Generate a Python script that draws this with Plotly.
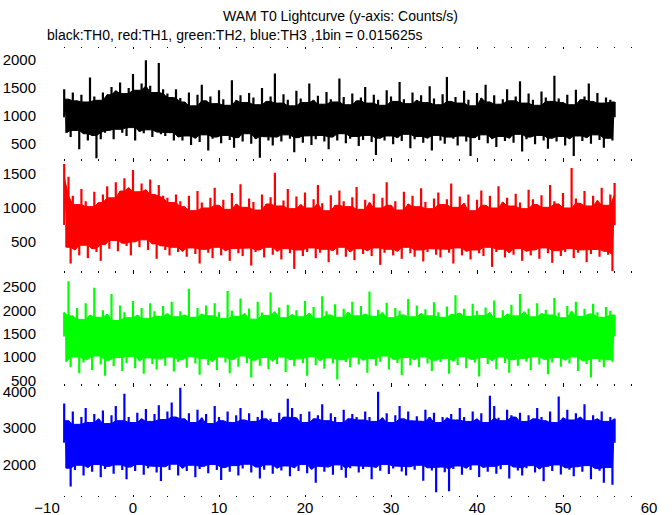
import plotly.graph_objects as go
from plotly.subplots import make_subplots

# Time grid (s): local maxima at T_HIGH, local minima at T_LOW (0.25 s apart, interleaved)
T_START = -8.0
N_HIGH = 129
T_HIGH = [T_START + 0.5 * k for k in range(N_HIGH)]
T_LOW = [T_START + 0.25 + 0.5 * k for k in range(N_HIGH - 1)]

# ---- TH0 (black), counts/s ----
th0_high = [
    1480, 1300, 1420, 1270, 1380, 1250, 1690, 1350, 1280,
    1420, 1380, 1520, 1450, 1600, 1400, 1500, 1750, 1460, 1580, 2000, 1540, 1420, 1950, 1480,
    1400, 1330, 1480,
    1320, 1250, 1420, 1180, 1380, 1560, 1270, 1350, 1220, 1460,
    1300, 1190, 1640, 1280, 1370, 1240, 1410, 1330, 1200, 1500,
    1260, 1350, 1760, 1230, 1390, 1290, 1180, 1450, 1310, 1240,
    1580, 1280, 1360, 1210, 1430, 1300, 1250, 1670, 1340, 1200,
    1400, 1270, 1330, 1520, 1230, 1380, 1290, 1190, 1460, 1350,
    1260, 1610, 1300, 1220, 1420, 1280, 1370, 1240, 1530, 1310,
    1200, 1390, 1700, 1260, 1340, 1230, 1450, 1290, 1180, 1410,
    1320, 1560, 1250, 1370, 1210, 1300, 1480, 1270, 1350, 1620,
    1230, 1400, 1290, 1190, 1440, 1330, 1260, 1720, 1310, 1240,
    1380, 1200, 1470, 1290, 1350, 1580, 1260, 1410, 1230, 1330,
    1290, 1250,
]
th0_low = [
    700, 620, 740, 400, 680, 560, 650, 240, 580,
    700, 740, 580, 760, 700, 640, 790, 560, 720, 690, 750, 620, 710, 670,
    640, 700, 560, 620,
    560, 640, 480, 600, 530, 660, 380, 590, 620, 510,
    650, 570, 430, 610, 540, 680, 500, 590, 250, 630,
    560, 470, 620, 540, 660, 590, 350, 610, 520, 640,
    480, 580, 650, 540, 400, 620, 560, 680, 510, 590,
    630, 460, 570, 650, 530, 300, 600, 560, 640, 490,
    610, 550, 670, 420, 580, 630, 520, 600, 380, 650,
    560, 500, 620, 590, 470, 640, 540, 280, 610, 570,
    660, 510, 590, 440, 630, 550, 600, 520, 670, 360,
    580, 620, 490, 650, 560, 410, 600, 540, 630, 470,
    590, 280, 640, 550, 610, 500, 660, 570, 430, 600,
    560,
]

# ---- TH1 (red) ----
th1_high = [
    1650, 1460, 1180, 1050, 1280, 1100, 1020, 1240, 1080,
    1200, 1320, 1150, 1380, 1250, 1440, 1300, 1560, 1240, 1360, 1270, 1420, 1200, 1340, 1180,
    1150, 1080, 1200,
    1100, 1020, 1180, 960, 1250, 1080, 1000, 1150, 1300, 1040,
    1120, 980, 1220, 1060, 1350, 1010, 1140, 1090, 970, 1200,
    1060, 1160, 1520, 1030, 1110, 1280, 990, 1170, 1050, 1230,
    1000, 1130, 1340, 1070, 960, 1190, 1040, 1260, 1100, 1020,
    1160, 1310, 980, 1120, 1080, 1210, 1000, 1150, 1380, 1040,
    1100, 970, 1240, 1060, 1180, 1020, 1290, 1090, 990, 1140,
    1230, 1050, 1130, 1360, 1010, 1170, 1070, 1200, 960, 1120,
    1260, 1040, 1180, 1000, 1320, 1090, 1150, 1030, 1210, 1080,
    990, 1270, 1130, 1050, 1190, 1010, 1340, 1100, 1060, 1220,
    1000, 1590, 1140, 1070, 1250, 1030, 1180, 1110, 1300, 1040,
    1200, 1370,
]
th1_low = [
    420, 180, 380, 300, 450, 260, 400, 350, 220,
    460, 400, 520, 360, 480, 440, 300, 500, 420, 530, 380, 470, 250, 440,
    380, 300, 420, 350,
    360, 280, 410, 320, 180, 390, 340, 260, 420, 300,
    370, 220, 400, 330, 290, 410, 150, 350, 380, 270,
    420, 310, 360, 240, 400, 330, 100, 380, 290, 350,
    410, 260, 340, 390, 200, 370, 310, 420, 280, 350,
    230, 400, 320, 370, 290, 410, 160, 340, 390, 300,
    360, 250, 420, 330, 280, 380, 210, 350, 400, 310,
    270, 390, 340, 180, 410, 300, 360, 240, 380, 330,
    290, 420, 130, 350, 390, 270, 340, 310, 400, 220,
    360, 300, 380, 250, 410, 330, 190, 370, 290, 350,
    400, 260, 340, 380, 200, 320, 390, 280, 360, 310,
    70,
]

# ---- TH2 (green) ----
th2_high = [
    1950, 2620, 1880, 2050, 1800, 2150, 1900, 2480, 1850, 2000, 1920, 2350, 1780, 2100,
    1960, 1840, 2200, 1900, 2050, 1820, 2150, 1980, 1870, 2090, 1930, 2180, 1860,
    1980, 1900, 2460, 1850, 2050, 1920, 2100, 1880, 2150, 1960,
    1820, 2410, 1990, 1870, 2250, 1930, 2040, 1810, 2180, 1950,
    1890, 2380, 1970, 2060, 1840, 2120, 1910, 2000, 1860, 2200,
    1940, 2070, 1830, 2300, 1980, 1900, 2130, 1850, 2030, 1960,
    2180, 1880, 2090, 1920, 2400, 1870, 2010, 1950, 2160, 1840,
    2050, 1990, 1900, 2240, 1860, 2100, 1930, 2020, 1880, 2170,
    1960, 1850, 2080, 1910, 2320, 1940, 2030, 1870, 2140, 1990,
    1890, 2060, 1950, 2210, 1830, 2000, 1920, 2120, 1880, 2350,
    1970, 2040, 1860, 2150, 1930, 2010, 1900, 2260, 1950, 1840,
    2090, 1980, 2180, 1870, 2030, 1920, 2140, 1960, 1850, 2070,
    1990, 1900,
]
th2_low = [
    900, 780, 1000, 650, 880, 950, 720, 1020, 840, 600, 930, 800, 990, 700,
    870, 1010, 760, 920, 640, 980, 850, 730, 960, 810, 1000, 690, 890,
    940, 770, 1010, 860, 620, 970, 830, 900, 720, 1000,
    880, 650, 950, 790, 1020, 870, 560, 930, 810, 990,
    740, 910, 850, 1000, 680, 940, 800, 960, 870, 600,
    1010, 830, 920, 750, 980, 860, 520, 940, 890, 780,
    1000, 840, 930, 660, 970, 810, 900, 1020, 730, 950,
    870, 610, 990, 820, 940, 780, 1000, 860, 700, 930,
    890, 970, 640, 910, 830, 1010, 760, 950, 880, 580,
    990, 850, 920, 740, 1000, 870, 660, 940, 810, 970,
    900, 720, 1010, 840, 950, 630, 880, 990, 790, 930,
    860, 1000, 700, 920, 850, 560, 970, 890, 780, 940,
    900,
]

# ---- TH3 (blue) ----
th3_high = [
    3670, 3200, 3450, 3100, 3300, 3550, 3150, 3380, 3250, 3480, 3120, 3350, 3600, 3200,
    3940, 3300, 3150, 3420, 3250, 3520, 3180, 3380, 3620, 3230, 3450, 3700, 3300,
    4100, 3250, 3400, 3150, 3500, 3280, 3380, 3120, 3600, 3300,
    3200, 3450, 3150, 3350, 3550, 3220, 3400, 3180, 3300, 3480,
    3250, 3250, 3150, 3420, 3300, 3800, 3550, 3280, 3380, 3150,
    3450, 3250, 3350, 3650, 3200, 3400, 3300, 3150, 3500, 3250,
    3380, 3300, 3220, 3450, 3300, 3180, 3990, 3280, 3400, 3150,
    3350, 3600, 3250, 3450, 3200, 3320, 3180, 3500, 3300, 3420,
    3150, 3300, 3280, 3380, 3220, 3550, 3300, 3180, 3450, 3250,
    3400, 3150, 3880, 3600, 3280, 3200, 3500, 3350, 3300, 3420,
    3180, 3350, 3250, 3550, 3300, 3200, 3450, 3150, 3860, 3280,
    3500, 3220, 3400, 3300, 3650, 3200, 3350, 3250, 3450, 3180,
    3300, 3250,
]
th3_low = [
    1900, 1400, 1850, 1980, 1700, 1920, 1800, 2000, 1650, 1880, 1950, 1750, 1990, 1850,
    1600, 1930, 1820, 2000, 1720, 1900, 1960, 1780, 1550, 1940, 1850, 2010, 1700,
    1900, 1820, 1980, 1650, 1880, 1950, 1760, 2000, 1850, 1580,
    1920, 1800, 1970, 1700, 1890, 2010, 1780, 1930, 1620, 1860,
    1990, 1750, 1900, 1840, 1960, 1680, 1910, 1820, 2000, 1760,
    1870, 1500, 1950, 1800, 1930, 1720, 1990, 1850, 1640, 1900,
    1970, 1780, 1880, 1950, 1600, 1920, 1830, 2000, 1740, 1890,
    1960, 1810, 1700, 1940, 1860, 1980, 1560, 1910, 1840, 1240,
    1930, 1790, 1270, 1880, 1960, 1720, 1900, 1850, 1990, 1660,
    1920, 1800, 1950, 1750, 1870, 2000, 1620, 1930, 1840, 1700,
    1900, 1970, 1780, 1880, 1540, 1950, 1820, 1990, 1730, 1910,
    1860, 1680, 1940, 1800, 1970, 1600, 1890, 1830, 1500, 1920,
    1450,
]

SERIES = [
    ("TH0", th0_high, th0_low, "#000000"),
    ("TH1", th1_high, th1_low, "#ff0000"),
    ("TH2", th2_high, th2_low, "#00ff00"),
    ("TH3", th3_high, th3_low, "#0000ff"),
]
Y_RANGES = [[218, 2236], [55, 1716], [411, 2819], [1112, 4190]]
Y_TICKS = [[500, 1000, 1500, 2000], [500, 1000, 1500], [500, 1000, 1500, 2000, 2500], [2000, 3000, 4000]]
X_TICKS = [-10, 0, 10, 20, 30, 40, 50, 60]

FONT = "Liberation Sans, Arial, Helvetica, sans-serif"

fig = make_subplots(rows=4, cols=1, shared_xaxes=True, vertical_spacing=0)


def running(vals, fn):
    n = len(vals)
    return [fn(vals[max(0, j - 1):min(n, j + 2)]) for j in range(n)]


for i, (name, hi, lo, col) in enumerate(SERIES):
    # solid core of the band: between the local lowest maxima and the local highest minima
    core_top = running(hi, min)
    core_bot = running(lo, max)
    fig.add_trace(go.Scatter(x=T_HIGH + T_LOW[::-1], y=core_top + core_bot[::-1],
                             mode="lines", fill="toself", fillcolor=col,
                             line=dict(color=col, width=1), showlegend=False,
                             hoverinfo="skip"), row=i + 1, col=1)
    # individual bins: vertical strokes from the band's middle out to each value
    mid = (sum(hi) + sum(lo)) / (len(hi) + len(lo))
    xs, ys = [], []
    for k in range(len(hi)):
        xs += [T_HIGH[k], T_HIGH[k], None]; ys += [mid, hi[k], None]
        if k < len(lo):
            xs += [T_LOW[k], T_LOW[k], None]; ys += [mid, lo[k], None]
    fig.add_trace(go.Scatter(x=xs, y=ys, mode="lines", name=name,
                             line=dict(color=col, width=2.2), showlegend=False,
                             hoverinfo="skip"), row=i + 1, col=1)
    fig.update_yaxes(range=Y_RANGES[i], tickvals=Y_TICKS[i], showgrid=False, zeroline=False,
                     showline=False, ticks="", ticklabelstandoff=10, automargin=False,
                     tickfont=dict(family=FONT, size=15, color="black"), row=i + 1, col=1)
    fig.update_xaxes(range=[-10, 60], tickvals=X_TICKS, showgrid=False, zeroline=False,
                     showline=False, ticks="inside", ticklen=2, tickcolor="black", tickwidth=1,
                     mirror="ticks", automargin=False,
                     minor=dict(dtick=2, tick0=0, ticks="inside", ticklen=1, tickcolor="black"),
                     showticklabels=(i == 3),
                     tickfont=dict(family=FONT, size=15, color="black"), row=i + 1, col=1)

fig.update_layout(
    width=672, height=515,
    margin=dict(l=47, r=23, t=47, b=18),
    paper_bgcolor="white", plot_bgcolor="white",
    font=dict(family=FONT, color="black"),
    annotations=[
        dict(text="WAM T0 Lightcurve (y-axis: Counts/s)", xref="paper", yref="paper",
             x=0.487, y=1.069, xanchor="center", yanchor="middle", showarrow=False,
             font=dict(family=FONT, size=14, color="black")),
        dict(text="black:TH0, red:TH1, green:TH2, blue:TH3 ,1bin = 0.015625s", xref="paper",
             yref="paper", x=-0.003, y=1.027, xanchor="left", yanchor="middle", showarrow=False,
             font=dict(family=FONT, size=14, color="black")),
    ],
)

fig.write_html("out.html", config={"displayModeBar": False},
               post_script="document.body.style.margin='0';")
